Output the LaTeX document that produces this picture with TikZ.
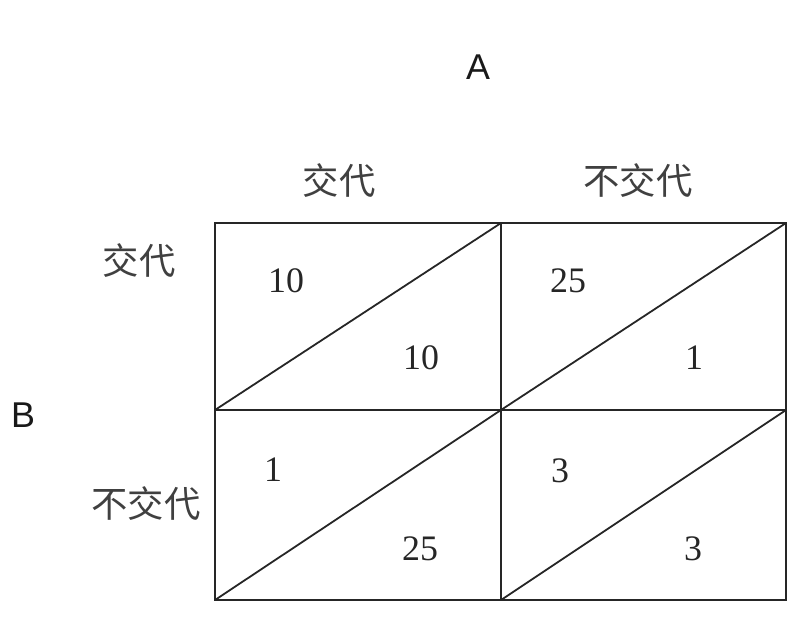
\documentclass[tikz,border=0pt]{standalone}
\usepackage{fontspec}
\setmainfont{Liberation Serif}
\newfontfamily\cjk{Noto Sans CJK SC}
\newfontfamily\arialfont{Liberation Sans}
\begin{document}
\begin{tikzpicture}[x=1bp,y=-1bp,
  gridline/.style={line width=1.8bp,draw=black!85},
  num/.style={font=\fontsize{36}{36}\selectfont,text=black!85,inner sep=0pt},
  cjklabel/.style={font=\cjk\fontsize{36.5}{36.5}\selectfont,text=black!75,inner sep=0pt},
  player/.style={font=\arialfont\fontsize{36}{36}\selectfont,text=black!90,inner sep=0pt}]
\useasboundingbox (0,0) rectangle (802,633);
% grid corners
\coordinate (tl) at (215,223);
\coordinate (tm) at (501,223);
\coordinate (tr) at (786,223);
\coordinate (ml) at (215,410);
\coordinate (mm) at (501,410);
\coordinate (mr) at (786,410);
\coordinate (bl) at (215,600);
\coordinate (bm) at (501,600);
\coordinate (br) at (786,600);
\draw[gridline] (tl) rectangle (br);
\draw[gridline] (tm) -- (bm);
\draw[gridline] (ml) -- (mr);
\draw[gridline] (ml) -- (tm);
\draw[gridline] (mm) -- (tr);
\draw[gridline] (bl) -- (mm);
\draw[gridline] (bm) -- (mr);
% players
\node[player] (A) at (478,67) {A};
\node[player] (B) at (23,415) {B};
% strategies
\node[cjklabel] (c1) at (339,181) {交代};
\node[cjklabel] (c2) at (638,181) {不交代};
\node[cjklabel] (r1) at (139,261) {交代};
\node[cjklabel] (r2) at (146,504) {不交代};
% payoffs
\node[num] (p11a) at (286,281) {10};
\node[num] (p11b) at (421,358) {10};
\node[num] (p12a) at (568,281) {25};
\node[num] (p12b) at (694,358) {1};
\node[num] (p21a) at (273,470) {1};
\node[num] (p21b) at (420,549) {25};
\node[num] (p22a) at (560,471) {3};
\node[num] (p22b) at (693,549) {3};
\end{tikzpicture}
\end{document}
